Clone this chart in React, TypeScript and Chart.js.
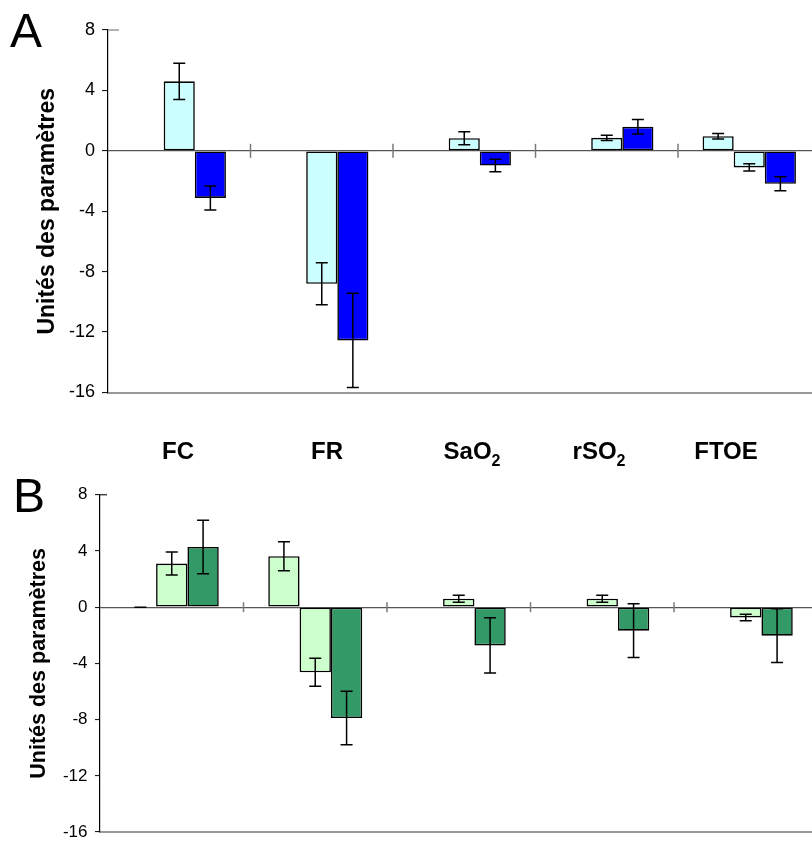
import React, { useEffect, useRef } from "react";
import { Chart, registerables } from "chart.js";

Chart.register(...registerables);

// ---------- data ----------
const CATEGORIES = ["FC", "FR", "SaO2", "rSO2", "FTOE"];
const LABEL_MAIN = ["FC", "FR", "SaO", "rSO", "FTOE"];
const LABEL_SUB = ["", "", "2", "2", ""];
const Y_MIN = -16;
const Y_MAX = 8;
const Y_STEP = 4;
const Y_TITLE = "Unités des paramètres";

// Panel A
const A_S1 = [null, null, null, null, 0.97];
const A_S1_ERR = [null, null, null, null, 0.18];
const A_S2 = [4.6, -8.8, 0.84, 0.86, -1.1];
const A_S2_ERR = [1.2, 1.39, 0.43, 0.18, 0.24];
const A_S3 = [-3.12, -12.55, -0.97, 1.59, -2.18];
const A_S3_ERR = [0.8, 3.12, 0.42, 0.48, 0.47];

// Panel B
const B_S1 = [0, 3.62, null, null, null];
const B_S1_ERR = [0, 1.03, null, null, null];
const B_S2 = [3.1, -4.63, 0.6, 0.6, -0.73];
const B_S2_ERR = [0.82, 1.0, 0.25, 0.25, 0.23];
const B_S3 = [4.28, -7.89, -2.72, -1.67, -2.03];
const B_S3_ERR = [1.9, 1.9, 1.97, 1.91, 1.91];

const A_COLORS = ["#CCFFFF", "#CCFFFF", "#0000FF"];
const B_COLORS = ["#CCFFCC", "#CCFFCC", "#339966"];

const FONT = '"Liberation Sans", Arial, Helvetica, sans-serif';

type Num = number | null;

interface PanelParams {
  series: Num[][];
  errors: Num[][];
  colors: string[];
  axisWidth: number;
  padding: { top: number; right: number; bottom: number; left: number };
  tickFont: number;
  tickLen: number;
  tickPad: number;
  titleFont: number;
  titlePad: number;
  sepHalf: number;
  stubColor: string;
  stubLen: number;
}

function buildConfig(p: PanelParams): any {
  const errorPlugin = {
    id: "errorBars",
    afterDatasetsDraw(chart: any) {
      const { ctx } = chart;
      const y = chart.scales.y;
      const cap = 6;
      chart.data.datasets.forEach((ds: any, di: number) => {
        const meta = chart.getDatasetMeta(di);
        meta.data.forEach((el: any, i: number) => {
          const v = ds.data[i];
          const e = p.errors[di][i];
          if (v == null || e == null) return;
          const x = el.x;
          const top = y.getPixelForValue(v + e);
          const bot = y.getPixelForValue(v - e);
          ctx.save();
          ctx.strokeStyle = "#000";
          ctx.lineWidth = 1.5;
          ctx.beginPath();
          ctx.moveTo(x, top);
          ctx.lineTo(x, bot);
          ctx.moveTo(x - cap, top);
          ctx.lineTo(x + cap, top);
          ctx.moveTo(x - cap, bot);
          ctx.lineTo(x + cap, bot);
          ctx.stroke();
          ctx.restore();
        });
      });
    },
  };

  const decoPlugin = {
    id: "deco",
    afterDatasetsDraw(chart: any) {
      const { ctx } = chart;
      const x = chart.scales.x;
      const y = chart.scales.y;
      const y0 = y.getPixelForValue(0);
      ctx.save();
      ctx.strokeStyle = "#7a7a7a";
      ctx.lineWidth = 1.5;
      for (let i = 1; i < CATEGORIES.length; i++) {
        const xb = (x.getPixelForValue(i - 1) + x.getPixelForValue(i)) / 2;
        ctx.beginPath();
        ctx.moveTo(xb, y0 - p.sepHalf);
        ctx.lineTo(xb, y0 + p.sepHalf);
        ctx.stroke();
      }
      const yt = y.getPixelForValue(Y_MAX);
      ctx.strokeStyle = p.stubColor;
      ctx.lineWidth = 1.5;
      ctx.beginPath();
      ctx.moveTo(chart.chartArea.left, yt);
      ctx.lineTo(chart.chartArea.left + p.stubLen, yt);
      ctx.stroke();
      ctx.restore();
    },
  };

  return {
    type: "bar",
    data: {
      labels: CATEGORIES,
      datasets: p.series.map((s, i) => ({
        data: s,
        backgroundColor: p.colors[i],
        borderColor: "#000",
        borderWidth: 1.6,
        borderSkipped: false,
        categoryPercentage: 0.655,
        barPercentage: 1.0,
      })),
    },
    options: {
      animation: false,
      responsive: false,
      maintainAspectRatio: false,
      layout: { padding: p.padding },
      plugins: {
        legend: { display: false },
        tooltip: { enabled: false },
        title: { display: false },
      },
      scales: {
        x: {
          type: "category",
          offset: true,
          grid: { display: false },
          ticks: { display: false },
          border: { display: true, color: "#999999", width: 2 },
          afterFit: (scale: any) => {
            scale.height = 0;
          },
        },
        y: {
          min: Y_MIN,
          max: Y_MAX,
          ticks: {
            stepSize: Y_STEP,
            color: "#000",
            padding: p.tickPad,
            font: { family: FONT, size: p.tickFont, lineHeight: 0.05 },
          },
          grid: {
            drawOnChartArea: true,
            drawTicks: true,
            tickLength: p.tickLen,
            tickColor: "#000",
            tickWidth: 1,
            lineWidth: 1.2,
            color: (ctx: any) =>
              ctx.tick && ctx.tick.value === 0 ? "#555555" : "rgba(0,0,0,0)",
          },
          border: { display: true, color: "#000", width: 1.2 },
          title: {
            display: true,
            text: Y_TITLE,
            color: "#000",
            font: { family: FONT, size: p.titleFont, weight: "bold" },
            padding: { top: p.titlePad, bottom: 0 },
          },
          afterFit: (scale: any) => {
            scale.width = p.axisWidth;
          },
        },
      },
    },
    plugins: [errorPlugin, decoPlugin],
  };
}

const LABEL_CENTER_X = [178, 327, 472, 599, 726];

export default function App() {
  const refA = useRef<HTMLCanvasElement>(null);
  const refB = useRef<HTMLCanvasElement>(null);

  useEffect(() => {
    const a = new Chart(
      refA.current!,
      buildConfig({
        series: [A_S1, A_S2, A_S3],
        errors: [A_S1_ERR, A_S2_ERR, A_S3_ERR],
        colors: A_COLORS,
        axisWidth: 108,
        padding: { top: 30, right: 3.5, bottom: 7.5, left: 0 },
        tickFont: 18,
        tickLen: 6,
        tickPad: 7,
        titleFont: 23,
        titlePad: 34,
        sepHalf: 7,
        stubColor: "#999999",
        stubLen: 11,
      })
    );
    const b = new Chart(
      refB.current!,
      buildConfig({
        series: [B_S1, B_S2, B_S3],
        errors: [B_S1_ERR, B_S2_ERR, B_S3_ERR],
        colors: B_COLORS,
        axisWidth: 100,
        padding: { top: 34.7, right: 6.5, bottom: 3.6, left: 0 },
        tickFont: 17,
        tickLen: 5,
        tickPad: 7.5,
        titleFont: 21.5,
        titlePad: 26,
        sepHalf: 5,
        stubColor: "#444444",
        stubLen: 7,
      })
    );
    return () => {
      a.destroy();
      b.destroy();
    };
  }, []);

  const canvasStyle = (top: number, h: number): React.CSSProperties => ({
    position: "absolute",
    left: 0,
    top,
    width: 824,
    height: h,
    display: "block",
  });

  return (
    <div
      style={{
        position: "absolute",
        left: 0,
        top: 0,
        width: 812,
        height: 841,
        overflow: "hidden",
        background: "#fff",
        fontFamily: FONT,
        color: "#000",
      }}
    >
      <canvas ref={refA} width={824} height={400} style={canvasStyle(0, 400)} />
      <canvas ref={refB} width={824} height={380} style={canvasStyle(460, 380)} />
      <div
        style={{
          position: "absolute",
          left: 10,
          top: 6.8,
          fontSize: 48,
          lineHeight: "48px",
        }}
      >
        A
      </div>
      <div
        style={{
          position: "absolute",
          left: 13,
          top: 471.8,
          fontSize: 48,
          lineHeight: "48px",
        }}
      >
        B
      </div>
      {LABEL_MAIN.map((t, i) => (
        <div
          key={t}
          style={{
            position: "absolute",
            left: LABEL_CENTER_X[i],
            top: 439,
            transform: "translateX(-50%)",
            fontSize: 24,
            lineHeight: "24px",
            fontWeight: "bold",
            whiteSpace: "nowrap",
          }}
        >
          {t}
          {LABEL_SUB[i] ? (
            <span
              style={{
                fontSize: 16,
                position: "relative",
                top: 7,
                lineHeight: 0,
              }}
            >
              {LABEL_SUB[i]}
            </span>
          ) : null}
        </div>
      ))}
    </div>
  );
}
